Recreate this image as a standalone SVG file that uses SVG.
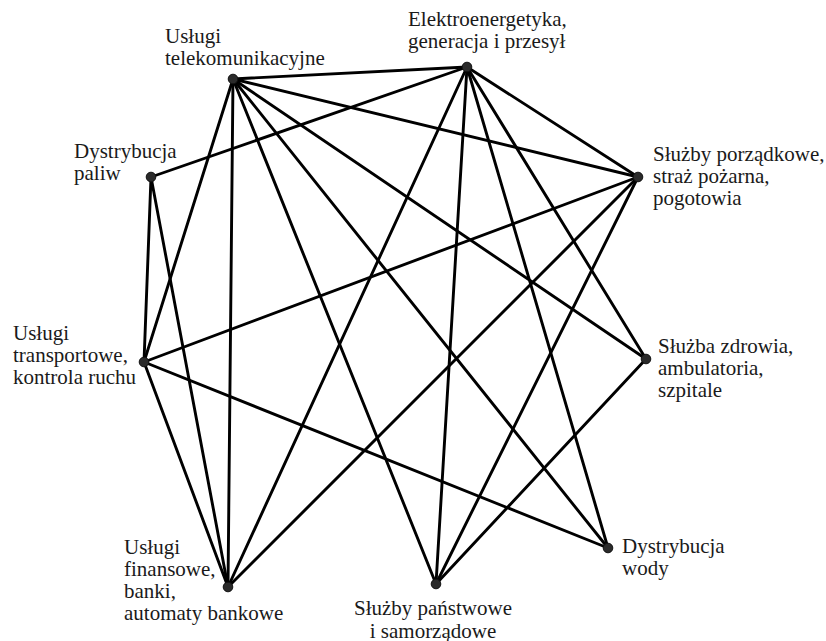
<svg xmlns="http://www.w3.org/2000/svg" width="826" height="641" viewBox="0 0 826 641">
<style>
  .lbl { font-family: 'Liberation Serif', serif; font-size: 21px; fill: #1a1a1a; }
  .edge { stroke: #000; stroke-width: 2.9; stroke-linecap: round; fill: none; }
  .dot { fill: #2a2a2a; stroke: #111; stroke-width: 1; }
</style>
<rect width="826" height="641" fill="#fff"/>
<g id="connectors">
  <line class="edge" x1="233" y1="79" x2="467" y2="67"/>
  <line class="edge" x1="233" y1="79" x2="638" y2="177"/>
  <line class="edge" x1="233" y1="79" x2="646" y2="359"/>
  <line class="edge" x1="233" y1="79" x2="608" y2="548"/>
  <line class="edge" x1="233" y1="79" x2="436" y2="584"/>
  <line class="edge" x1="233" y1="79" x2="228" y2="587"/>
  <line class="edge" x1="233" y1="79" x2="144" y2="362"/>
  <line class="edge" x1="467" y1="67" x2="151" y2="177"/>
  <line class="edge" x1="467" y1="67" x2="638" y2="177"/>
  <line class="edge" x1="467" y1="67" x2="646" y2="359"/>
  <line class="edge" x1="467" y1="67" x2="608" y2="548"/>
  <line class="edge" x1="467" y1="67" x2="436" y2="584"/>
  <line class="edge" x1="467" y1="67" x2="228" y2="587"/>
  <line class="edge" x1="151" y1="177" x2="144" y2="362"/>
  <line class="edge" x1="151" y1="177" x2="228" y2="587"/>
  <line class="edge" x1="638" y1="177" x2="144" y2="362"/>
  <line class="edge" x1="638" y1="177" x2="228" y2="587"/>
  <line class="edge" x1="638" y1="177" x2="436" y2="584"/>
  <line class="edge" x1="646" y1="359" x2="436" y2="584"/>
  <line class="edge" x1="144" y1="362" x2="608" y2="548"/>
  <line class="edge" x1="144" y1="362" x2="228" y2="587"/>
</g>
<g id="telekom">
  <circle class="dot" cx="233" cy="79" r="4.8"/>
  <text class="lbl" x="165" y="43">Usługi</text>
  <text class="lbl" x="165" y="65">telekomunikacyjne</text>
</g>
<g id="elektro">
  <circle class="dot" cx="467" cy="67" r="4.8"/>
  <text class="lbl" x="408" y="26">Elektroenergetyka,</text>
  <text class="lbl" x="408" y="48">generacja i przesył</text>
</g>
<g id="paliwa">
  <circle class="dot" cx="151" cy="177" r="4.8"/>
  <text class="lbl" x="74" y="158">Dystrybucja</text>
  <text class="lbl" x="74" y="180">paliw</text>
</g>
<g id="porzadkowe">
  <circle class="dot" cx="638" cy="177" r="4.8"/>
  <text class="lbl" x="653" y="161">Służby porządkowe,</text>
  <text class="lbl" x="653" y="183">straż pożarna,</text>
  <text class="lbl" x="653" y="205">pogotowia</text>
</g>
<g id="transport">
  <circle class="dot" cx="144" cy="362" r="4.8"/>
  <text class="lbl" x="13" y="340">Usługi</text>
  <text class="lbl" x="13" y="362">transportowe,</text>
  <text class="lbl" x="13" y="384">kontrola ruchu</text>
</g>
<g id="zdrowie">
  <circle class="dot" cx="646" cy="359" r="4.8"/>
  <text class="lbl" x="658" y="353">Służba zdrowia,</text>
  <text class="lbl" x="658" y="375">ambulatoria,</text>
  <text class="lbl" x="658" y="397">szpitale</text>
</g>
<g id="finanse">
  <circle class="dot" cx="228" cy="587" r="4.8"/>
  <text class="lbl" x="124" y="554">Usługi</text>
  <text class="lbl" x="124" y="576">finansowe,</text>
  <text class="lbl" x="124" y="598">banki,</text>
  <text class="lbl" x="124" y="620">automaty bankowe</text>
</g>
<g id="panstwowe">
  <circle class="dot" cx="436" cy="584" r="4.8"/>
  <text class="lbl" x="433" y="615" text-anchor="middle">Służby państwowe</text>
  <text class="lbl" x="433" y="638" text-anchor="middle">i samorządowe</text>
</g>
<g id="woda">
  <circle class="dot" cx="608" cy="548" r="4.8"/>
  <text class="lbl" x="622" y="553">Dystrybucja</text>
  <text class="lbl" x="622" y="575">wody</text>
</g>
</svg>
